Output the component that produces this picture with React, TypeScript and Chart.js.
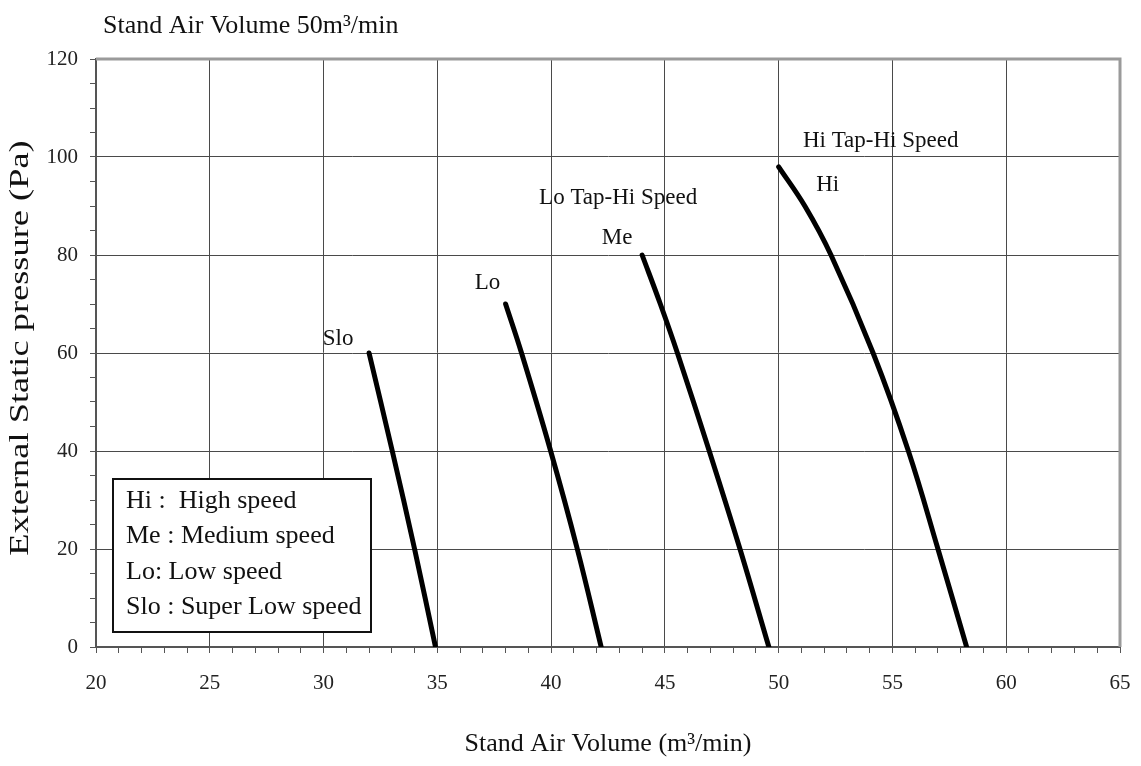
import React, { useEffect, useRef } from 'react';
import { Chart, registerables } from 'chart.js';

Chart.register(...registerables);

const FONT = "'Liberation Serif', 'Times New Roman', serif";

// ---- texts ----
const chartTitle = 'Stand Air Volume 50m³/min';
const xAxisTitle = 'Stand Air Volume (m³/min)';
const yAxisTitle = 'External Static pressure (Pa)';

// ---- axes ----
const xMin = 20;
const xMax = 65;
const yMin = 0;
const yMax = 120;
const xMajorTicks = [20, 25, 30, 35, 40, 45, 50, 55, 60, 65];
const yMajorTicks = [0, 20, 40, 60, 80, 100, 120];
const xMinorStep = 1;
const yMinorStep = 5;

// ---- series (air volume m3/min vs external static pressure Pa) ----
const seriesNames = ['Slo', 'Lo', 'Me', 'Hi'];
const sloX = [32.0, 33.02, 34.0, 34.92];
const sloY = [60, 40, 20, 0];
const loX = [38.0, 38.7, 39.98, 41.15, 42.2];
const loY = [70, 60, 40, 20, 0];
const meX = [44.0, 44.8, 45.55, 46.95, 48.3, 49.57];
const meY = [80, 70, 60, 40, 20, 0];
const hiX = [50.0, 51.15, 52.3, 54.15, 55.7, 57.0, 58.26];
const hiY = [98, 90, 80, 60, 40, 20, 0];

// ---- legend box lines ----
const legendLines = [
  'Hi :  High speed',
  'Me : Medium speed',
  'Lo: Low speed',
  'Slo : Super Low speed',
];

// ---- curve annotations: anchored at the first point of a series, pixel offsets ----
const annotations = [
  { text: 'Slo', series: 0, dx: -31, dy: -14 },
  { text: 'Lo', series: 1, dx: -18, dy: -21 },
  { text: 'Me', series: 2, dx: -25, dy: -17 },
  { text: 'Lo Tap-Hi Speed', series: 2, dx: -24, dy: -57 },
  { text: 'Hi', series: 3, dx: 49, dy: 18 },
  { text: 'Hi Tap-Hi Speed', series: 3, dx: 102, dy: -26 },
];

const toPoints = (xs: number[], ys: number[]) => xs.map((x, i) => ({ x, y: ys[i] }));
const seriesData = [toPoints(sloX, sloY), toPoints(loX, loY), toPoints(meX, meY), toPoints(hiX, hiY)];

const overlayPlugin = {
  id: 'overlay',
  afterDraw(chart: any) {
    const { ctx, chartArea, scales } = chart;
    const { left, right, top, bottom } = chartArea;
    ctx.save();

    // top / right plot border
    ctx.strokeStyle = '#9a9a9a';
    ctx.lineWidth = 3;
    ctx.beginPath();
    ctx.moveTo(left, top);
    ctx.lineTo(right, top);
    ctx.lineTo(right, bottom);
    ctx.stroke();

    // chart title
    ctx.fillStyle = '#111';
    ctx.font = `26px ${FONT}`;
    ctx.textAlign = 'left';
    ctx.textBaseline = 'alphabetic';
    ctx.fillText(chartTitle, 103, 33);

    // y axis title (rotated, slightly stretched along its length as in the source)
    ctx.save();
    ctx.translate(21, (top + bottom) / 2 - 5);
    ctx.rotate(-Math.PI / 2);
    ctx.scale(1.3, 1);
    ctx.font = `28px ${FONT}`;
    ctx.textAlign = 'center';
    ctx.textBaseline = 'middle';
    ctx.fillText(yAxisTitle, 0, 0);
    ctx.restore();

    // curve annotations
    ctx.font = `23px ${FONT}`;
    ctx.textAlign = 'center';
    ctx.textBaseline = 'middle';
    annotations.forEach((a) => {
      const p = seriesData[a.series][0];
      const px = scales.x.getPixelForValue(p.x) + a.dx;
      const py = scales.y.getPixelForValue(p.y) + a.dy;
      ctx.fillText(a.text, px, py);
    });

    // legend box
    const bx = left + 17;
    const by = bottom - 168;
    const bw = 258;
    const bh = 153;
    ctx.fillStyle = '#fff';
    ctx.fillRect(bx, by, bw, bh);
    ctx.strokeStyle = '#111';
    ctx.lineWidth = 2;
    ctx.strokeRect(bx, by, bw, bh);
    ctx.fillStyle = '#111';
    ctx.font = `26px ${FONT}`;
    ctx.textAlign = 'left';
    ctx.textBaseline = 'middle';
    legendLines.forEach((line, i) => {
      ctx.fillText(line, bx + 13, by + 22 + i * 35.5);
    });

    ctx.restore();
  },
};

export default function App() {
  const canvasRef = useRef<HTMLCanvasElement | null>(null);

  useEffect(() => {
    const canvas = canvasRef.current;
    if (!canvas) return;

    const chart = new Chart(canvas, {
      type: 'scatter',
      data: {
        datasets: seriesData.map((d, i) => ({
          label: seriesNames[i],
          data: d,
          showLine: true,
          borderColor: '#000',
          backgroundColor: '#000',
          borderWidth: 5,
          borderCapStyle: 'round',
          borderJoinStyle: 'round',
          pointRadius: 0,
          pointHoverRadius: 0,
          tension: 0.4,
        })),
      },
      options: {
        responsive: false,
        animation: false,
        events: [],
        layout: { padding: { top: 59, right: 21, bottom: 0, left: 0 } },
        plugins: {
          legend: { display: false },
          title: { display: false },
          tooltip: { enabled: false },
        },
        scales: {
          x: {
            type: 'linear',
            min: xMin,
            max: xMax,
            afterFit: (scale: any) => {
              scale.height = 119;
              scale.paddingLeft = 0;
              scale.paddingRight = 0;
            },
            afterBuildTicks: (scale: any) => {
              const t = [];
              for (let v = xMin; v <= xMax + 1e-9; v += xMinorStep) t.push({ value: v });
              scale.ticks = t;
            },
            ticks: {
              autoSkip: false,
              maxRotation: 0,
              padding: 18,
              color: '#222',
              font: { family: FONT, size: 21 },
              callback: (v: any) => (xMajorTicks.includes(Number(v)) ? String(v) : ''),
            },
            grid: {
              color: (c: any) => (c.tick && xMajorTicks.includes(c.tick.value) ? '#4a4a4a' : 'rgba(0,0,0,0)'),
              lineWidth: 1,
              tickColor: '#555',
              tickLength: 6,
            },
            border: { display: true, color: '#555', width: 2 },
            title: {
              display: true,
              text: xAxisTitle,
              color: '#111',
              font: { family: FONT, size: 26 },
              padding: { top: 0, bottom: 6 },
            },
          },
          y: {
            type: 'linear',
            min: yMin,
            max: yMax,
            afterFit: (scale: any) => {
              scale.width = 96;
              scale.paddingTop = 0;
              scale.paddingBottom = 0;
            },
            afterBuildTicks: (scale: any) => {
              const t = [];
              for (let v = yMin; v <= yMax + 1e-9; v += yMinorStep) t.push({ value: v });
              scale.ticks = t;
            },
            ticks: {
              autoSkip: false,
              padding: 12,
              color: '#222',
              font: { family: FONT, size: 21 },
              callback: (v: any) => (yMajorTicks.includes(Number(v)) ? String(v) : ''),
            },
            grid: {
              color: (c: any) => (c.tick && yMajorTicks.includes(c.tick.value) ? '#4a4a4a' : 'rgba(0,0,0,0)'),
              lineWidth: 1,
              tickColor: '#555',
              tickLength: 6,
            },
            border: { display: true, color: '#555', width: 2 },
            title: { display: false },
          },
        },
      } as any,
      plugins: [overlayPlugin],
    });

    return () => {
      chart.destroy();
    };
  }, []);

  return (
    <div style={{ position: 'fixed', left: 0, top: 0, width: 1141, height: 766, background: '#fff' }}>
      <canvas ref={canvasRef} width={1141} height={766} style={{ display: 'block' }} />
    </div>
  );
}
